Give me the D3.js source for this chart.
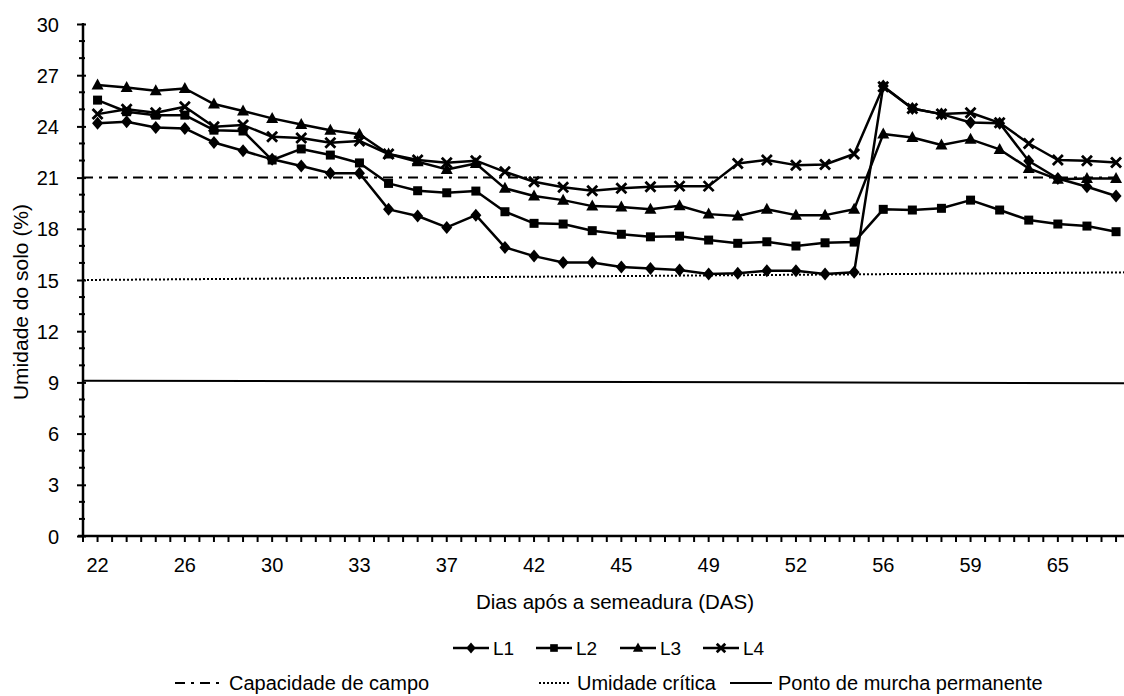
<!DOCTYPE html>
<html>
<head>
<meta charset="utf-8">
<script src="https://cdn.jsdelivr.net/npm/d3@7/dist/d3.min.js"></script>
<style>
  html, body { margin: 0; padding: 0; background: #fff; }
  svg text { font-family: "Liberation Sans", Arial, sans-serif; fill: #000; }
</style>
</head>
<body>
<svg id="chart" width="1124" height="696"></svg>
<script>
// ---- data ----
const dasLabels = ["22","26","30","33","37","42","45","49","52","56","59","65"];
const L1 = [24.18,24.27,23.94,23.88,23.06,22.57,22.07,21.68,21.25,21.25,19.14,18.75,18.08,18.8,16.91,16.40,16.03,16.03,15.76,15.68,15.58,15.35,15.39,15.54,15.54,15.35,15.45,26.36,25.05,24.72,24.23,24.18,21.97,20.95,20.46,19.92];
const L2 = [25.54,24.86,24.66,24.66,23.78,23.73,22.03,22.68,22.32,21.86,20.66,20.23,20.11,20.21,19.0,18.32,18.28,17.89,17.68,17.53,17.57,17.34,17.15,17.24,16.99,17.18,17.22,19.14,19.1,19.2,19.68,19.10,18.51,18.28,18.16,17.83];
const L3 = [26.42,26.28,26.09,26.22,25.31,24.90,24.47,24.11,23.78,23.54,22.38,21.93,21.48,21.83,20.37,19.92,19.68,19.33,19.28,19.14,19.35,18.86,18.75,19.14,18.8,18.8,19.14,23.55,23.35,22.91,23.24,22.65,21.54,20.9,20.95,20.95];
const L4 = [24.72,25.0,24.8,25.15,23.98,24.08,23.39,23.32,23.04,23.15,22.38,22.03,21.87,21.99,21.34,20.76,20.43,20.23,20.37,20.46,20.50,20.5,21.83,22.03,21.73,21.77,22.38,26.32,25.05,24.72,24.8,24.21,23.0,22.03,21.99,21.89];
const seriesNames = ["L1","L2","L3","L4"];
const seriesMarkers = ["diamond","square","triangle","cross"];
// reference lines: [value at start, value at end]
const capacidadeCampo = [21.0, 21.0];
const umidadeCritica = [15.0, 15.45];
const pontoMurcha = [9.1, 8.95];
const refNames = ["Capacidade de campo","Umidade crítica","Ponto de murcha permanente"];
const yTicks = [0,3,6,9,12,15,18,21,24,27,30];

// ---- layout ----
const svg = d3.select("#chart");
const nPts = L1.length;
const x = d3.scaleLinear().domain([-0.5, nPts - 0.5]).range([83, 83 + nPts * 29.1]);
const y = d3.scaleLinear().domain([0, 30]).range([536, 24]);
const xRight = 1124;
const FS = "20px";

// reference lines
const refs = [
  {v: capacidadeCampo, dash: "10,6,3,6"},
  {v: umidadeCritica, dash: "2,2"},
  {v: pontoMurcha, dash: null}
];
refs.forEach(r => {
  const x0 = x.domain()[0], x1 = x.invert(xRight);
  const yAt = d3.scaleLinear().domain([x0, x.domain()[1]]).range(r.v);
  svg.append("line")
    .attr("x1", x(x0)).attr("x2", xRight)
    .attr("y1", y(r.v[0])).attr("y2", y(yAt(x1)))
    .attr("stroke", "#000").attr("stroke-width", 2)
    .attr("stroke-dasharray", r.dash);
});

// y axis
const yAxis = d3.axisLeft(y).tickValues(yTicks).tickSize(5).tickPadding(19).tickFormat(d3.format("d"));
const gy = svg.append("g").attr("transform", `translate(${x(-0.5)},0)`).call(yAxis);
gy.select(".domain").attr("stroke-width", 2.5).attr("d", `M0,${y(30) - 1}V${y(0) + 1}`);
gy.selectAll(".tick line").attr("stroke-width", 2).attr("x2", -6).attr("x1", 3);
gy.selectAll(".tick text").style("font-size", FS).attr("dy", "0.35em");
// minor y ticks
svg.append("g").selectAll("line").data(d3.range(0, 31).filter(v => v % 3 !== 0)).join("line")
  .attr("x1", x(-0.5) - 4).attr("x2", x(-0.5) + 2)
  .attr("y1", d => y(d)).attr("y2", d => y(d))
  .attr("stroke", "#000").attr("stroke-width", 2);

// x axis
svg.append("line").attr("x1", x(-0.5) - 5).attr("x2", xRight)
  .attr("y1", y(0)).attr("y2", y(0)).attr("stroke", "#000").attr("stroke-width", 2.5);
const halfTicks = d3.range(-0.5, nPts, 0.5).filter(t => x(t) <= xRight);
svg.append("g").selectAll("line").data(halfTicks).join("line")
  .attr("x1", d => x(d)).attr("x2", d => x(d))
  .attr("y1", d => d === -0.5 ? y(0) - 5 : y(0)).attr("y2", d => y(0) + 6)
  .attr("stroke", "#000").attr("stroke-width", 2);
svg.append("g").selectAll("text").data(dasLabels).join("text")
  .attr("x", (d, i) => x(i * 3)).attr("y", 572)
  .attr("text-anchor", "middle").style("font-size", FS).text(d => d);

// titles
svg.append("text").attr("x", 615).attr("y", 609)
  .attr("text-anchor", "middle").style("font-size", "20.5px").text("Dias após a semeadura (DAS)");
svg.append("text").attr("transform", `translate(28,302) rotate(-90)`)
  .attr("text-anchor", "middle").style("font-size", "21px").text("Umidade do solo (%)");

// markers
function drawMarker(g, type, cx, cy, s = 1) {
  if (type === "diamond") {
    g.append("path").attr("d", `M${cx},${cy-6.5*s}L${cx+5.5*s},${cy}L${cx},${cy+6.5*s}L${cx-5.5*s},${cy}Z`).attr("fill", "#000");
  } else if (type === "square") {
    g.append("rect").attr("x", cx - 4.5*s).attr("y", cy - 4.5*s).attr("width", 9*s).attr("height", 9*s).attr("fill", "#000");
  } else if (type === "triangle") {
    g.append("path").attr("d", `M${cx},${cy-6.5*s}L${cx+6*s},${cy+4.5*s}L${cx-6*s},${cy+4.5*s}Z`).attr("fill", "#000");
  } else {
    g.append("path").attr("d", `M${cx-5*s},${cy-5*s}L${cx+5*s},${cy+5*s}M${cx+5*s},${cy-5*s}L${cx-5*s},${cy+5*s}`)
      .attr("stroke", "#000").attr("stroke-width", 2.8);
  }
}

const allSeries = [L1, L2, L3, L4];
const line = d3.line().x((d, i) => x(i)).y(d => y(d));
allSeries.forEach((s, k) => {
  const g = svg.append("g");
  g.append("path").datum(s).attr("d", line).attr("fill", "none")
    .attr("stroke", "#000").attr("stroke-width", 2.5).attr("stroke-linejoin", "round");
  s.forEach((v, i) => drawMarker(g, seriesMarkers[k], x(i), y(v)));
});

// legend row 1
const leg1X = [453, 536, 620, 703];
seriesNames.forEach((n, k) => {
  const g = svg.append("g");
  const lx = leg1X[k], ly = 648;
  g.append("line").attr("x1", lx).attr("x2", lx + 36).attr("y1", ly).attr("y2", ly)
    .attr("stroke", "#000").attr("stroke-width", 2.5);
  drawMarker(g, seriesMarkers[k], lx + 18, ly, 0.85);
  g.append("text").attr("x", lx + 40).attr("y", ly + 7).style("font-size", "19px").text(n);
});

// legend row 2
const leg2X = [175, 539, 730];
const leg2W = [48, 32, 42];
refs.forEach((r, k) => {
  const lx = leg2X[k], ly = 683;
  svg.append("line").attr("x1", lx).attr("x2", lx + leg2W[k]).attr("y1", ly).attr("y2", ly)
    .attr("stroke", "#000").attr("stroke-width", 2).attr("stroke-dasharray", r.dash);
  svg.append("text").attr("x", lx + leg2W[k] + 6).attr("y", ly + 7).style("font-size", "20px").text(refNames[k]);
});
</script>
</body>
</html>
